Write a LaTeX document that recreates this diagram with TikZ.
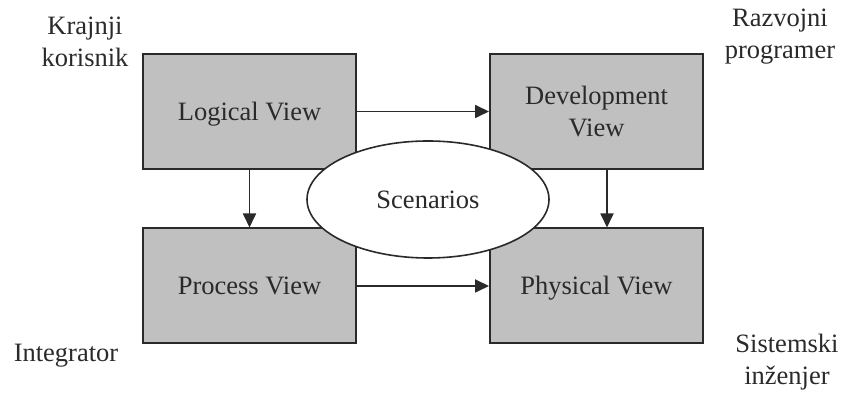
\documentclass[tikz,border=0pt]{standalone}
\usepackage{fontspec}
\setmainfont{Liberation Serif}
\usetikzlibrary{arrows.meta,shapes.geometric}
\definecolor{boxfill}{HTML}{C0C0C0}
\definecolor{ink}{HTML}{2A2A2A}
\begin{document}
\begin{tikzpicture}[x=0.5pt,y=-0.5pt,
  every node/.style={font=\fontsize{13.25}{16}\selectfont, text=ink},
  viewbox/.style={draw=ink, line width=1pt, fill=boxfill, minimum width=106.5pt, minimum height=57.5pt, inner sep=0pt, align=center},
  oneline/.style={text height=9pt, text depth=0pt},
  scen/.style={ellipse, draw=ink, line width=0.8pt, fill=white, minimum width=121pt, minimum height=58.5pt, inner sep=0pt, text height=9pt, text depth=0pt},
  arr/.style={draw=ink, line width=0.9pt, -{Triangle[length=7pt,width=6.5pt]}},
  role/.style={align=center, anchor=base}]
\useasboundingbox (0,0) rectangle (842,394);
\node[viewbox, oneline] (logical) at (249.5,111.5) {Logical View};
\node[viewbox] (dev) at (596.5,111.5) {Development\\View};
\node[viewbox, oneline] (process) at (249.5,286) {Process View};
\node[viewbox, oneline] (physical) at (596.5,286) {Physical View};
\draw[arr] (logical.east) -- (dev.west);
\draw[arr] (process.east) -- (physical.west);
\draw[arr] (logical.south) -- (process.north);
\draw[arr] ([xshift=5.25pt]dev.south) -- ([xshift=5.25pt]physical.north);
\node[scen] (scenarios) at (428,199.5) {Scenarios};
\node[role] (krajnji) at (85,67) {Krajnji\\korisnik};
\node[role] (razvojni) at (780,59) {Razvojni\\programer};
\node[role] (integrator) at (66,362) {Integrator};
\node[role] (sistemski) at (787,385) {Sistemski\\inženjer};
\end{tikzpicture}
\end{document}
